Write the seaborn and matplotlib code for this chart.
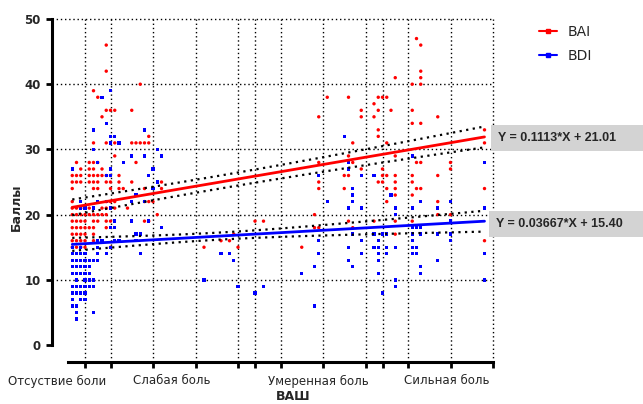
import numpy as np
import pandas as pd
import matplotlib
matplotlib.use("Agg")
import matplotlib.pyplot as plt
import seaborn as sns
from matplotlib.lines import Line2D

# ---- data: score level -> VAS values with that score ----
bai_scores = [47, 46, 42, 41, 40, 39, 38, 37, 36, 35, 34, 33, 32, 31, 29, 28, 27,
              26, 25, 24, 23, 22, 21, 20, 19, 18, 17, 16, 15]
bai_vas = [
    [82], [9, 83], [9, 83], [77, 83], [17, 81, 83], [6], [7, 61, 66, 73, 74, 75], [72],
    [9, 10, 11, 15, 69, 73, 76, 81], [8, 59, 69, 72, 87], [81, 83], [73, 98], [19, 73],
    [6, 9, 11, 15, 16, 17, 18, 19, 67, 75, 98], [11, 66, 77],
    [2, 5, 6, 7, 16, 59, 67, 82, 83, 90], [3, 5, 6, 8, 69, 74, 90],
    [1, 2, 3, 5, 6, 7, 8, 9, 10, 12, 65, 66, 74, 75, 77, 81, 87],
    [1, 2, 3, 5, 6, 7, 9, 10, 12, 15, 22, 59, 73, 74, 77, 81],
    [1, 6, 7, 10, 12, 13, 18, 22, 59, 65, 75, 77, 82, 83, 98], [77, 81],
    [1, 9, 10, 11, 18, 19, 20, 75, 87], [1, 2, 3, 5, 8, 9, 11, 14],
    [1, 2, 3, 4, 5, 6, 7, 8, 9, 21, 58, 87, 90],
    [1, 2, 3, 4, 6, 7, 9, 10, 18, 19, 44, 46, 66, 72, 77, 81],
    [1, 2, 3, 4, 5, 6, 9, 58, 59, 67], [1, 2, 3, 4, 6, 39, 77],
    [1, 2, 3, 4, 6, 36, 38, 98], [1, 2, 3, 4, 10, 32, 40, 55],
]

bdi_scores = [39, 38, 34, 33, 32, 31, 30, 29, 28, 27, 26, 25, 24, 23, 22, 21, 20, 19,
              18, 17, 16, 15, 14, 13, 12, 11, 10, 9, 8, 7, 6, 5, 4]
bdi_vas = [
    [10], [8], [9], [6, 18], [10, 11, 65], [10, 12], [6, 21], [15, 18, 22, 81],
    [7, 13, 66, 98], [1, 10, 20, 66], [9, 10, 19, 59, 69, 72], [21], [20, 67],
    [16, 67, 76], [3, 7, 9, 15, 18, 61, 67, 83, 90], [3, 4, 6, 10, 66, 69, 77, 81, 87, 98],
    [77], [11, 15, 19, 90], [10, 11, 22, 81, 82, 83],
    [16, 17, 67, 72, 74, 75, 81, 83, 87, 90], [7, 8, 11, 12, 16, 59, 69, 73, 81, 90],
    [1, 3, 7, 10, 66, 72, 73, 75, 77, 81, 82],
    [1, 2, 3, 4, 7, 9, 17, 36, 38, 59, 69, 73, 75, 81, 82, 98],
    [1, 2, 3, 4, 5, 6, 7, 39, 66, 73, 87], [1, 2, 3, 4, 5, 58, 67, 83],
    [1, 2, 3, 4, 5, 55, 73, 83], [2, 4, 5, 6, 32, 77, 98], [1, 2, 3, 4, 5, 6, 40, 46, 77],
    [1, 2, 3, 4, 44, 74], [1, 3, 4], [1, 2, 58], [2, 6], [2],
]

# fitted lines as printed on the chart (slope, intercept)
bai_fit = (0.1113, 21.01)
bdi_fit = (0.03667, 15.40)
# half-width of the 95% band read at the two ends of each line
bai_band_ends = (1.2, 1.6)
bdi_band_ends = (1.0, 1.6)

category_labels = ["Отсуствие боли", "Слабая боль", "Умеренная боль", "Сильная боль"]
category_pos = [-2.5, 24.5, 59, 89]
tick_pos = [4, 10, 20, 30, 40, 44, 50, 60, 70, 74, 80, 90, 100]
grid_y = [10, 20, 30, 40, 50]


def to_frame(scores, vas, name):
    rows = [(x, s) for s, xs in zip(scores, vas) for x in xs]
    df = pd.DataFrame(rows, columns=["vas", "score"])
    df["scale"] = name
    return df


data = pd.concat([to_frame(bai_scores, bai_vas, "BAI"),
                  to_frame(bdi_scores, bdi_vas, "BDI")], ignore_index=True)

sns.set_style("white")
plt.rcParams['font.family'] = ['DejaVu Sans']

fig = plt.figure(figsize=(6.43, 4.04), dpi=100)
ax = fig.add_axes([51.85 / 643, 42 / 404, 441.15 / 643, 343 / 404])
ax.set_xlim(-3.8, 100)
ax.set_ylim(-2.6, 50)

# dotted grid
for x in tick_pos:
    ax.axvline(x, color="black", ls=(0, (1, 2)), lw=1, zorder=0, clip_on=False)
for y in grid_y:
    ax.axhline(y, color="black", ls=(0, (1, 2)), lw=1, zorder=0, clip_on=False)

palette = {"BAI": "#ff0000", "BDI": "#0000ff"}
sns.scatterplot(data=data, x="vas", y="score", hue="scale", style="scale",
                markers={"BAI": "o", "BDI": "s"}, palette=palette, s=6,
                linewidth=0, legend=False, ax=ax, zorder=2)

# regression lines + confidence band (hyperbolic, centred on mean VAS)
for name, (b, a), (h1, h2) in [("BAI", bai_fit, bai_band_ends),
                               ("BDI", bdi_fit, bdi_band_ends)]:
    d = data[data["scale"] == name]
    x0, x1 = d["vas"].min(), d["vas"].max()
    m = d["vas"].mean()
    B = (h2 ** 2 - h1 ** 2) / ((x1 - m) ** 2 - (x0 - m) ** 2)
    A = h1 ** 2 - B * (x0 - m) ** 2
    xs = np.linspace(x0, x1, 100)
    yhat = a + b * xs
    half = np.sqrt(A + B * (xs - m) ** 2)
    sns.lineplot(x=xs, y=yhat, color=palette[name], lw=2, ax=ax, zorder=4)
    ax.plot(xs, yhat + half, color="black", ls=(0, (1, 2)), lw=1.6, zorder=3)
    ax.plot(xs, yhat - half, color="black", ls=(0, (1, 2)), lw=1.6, zorder=3)

# axes styling (Prism-like)
for side in ["top", "right"]:
    ax.spines[side].set_visible(False)
ax.spines["left"].set_bounds(0, 50)
ax.spines["bottom"].set_bounds(0, 100)
ax.spines["left"].set_linewidth(2.2)
ax.spines["bottom"].set_linewidth(2.2)
ax.spines["left"].set_color("black")
ax.spines["bottom"].set_color("black")

ax.set_yticks([0, 10, 20, 30, 40, 50])
ax.set_yticklabels([0, 10, 20, 30, 40, 50], fontweight="bold", fontsize=8.5)
ax.set_xticks(tick_pos)
ax.set_xticklabels([])
ax.set_xticks(category_pos, labels=category_labels, minor=True)
ax.tick_params(axis="both", which="major", direction="out", length=4.5, width=2,
               color="black", left=True, bottom=True)
ax.tick_params(axis="x", which="minor", length=0, pad=9, labelsize=8.5)

ax.set_ylabel("Баллы", fontweight="bold", fontsize=9)
ax.yaxis.set_label_coords(-0.065, 0.45)
ax.set_xlabel("ВАШ", fontweight="bold", fontsize=9)
ax.xaxis.set_label_coords(0.547, -0.083)

# equations
eq_style = dict(fontsize=9, fontweight="bold", family=["Liberation Sans", "DejaVu Sans"],
                va="center", ha="left", clip_on=False,
                bbox=dict(boxstyle="square,pad=0.55", fc="#d3d3d3", ec="none"))
ax.text(101.2, 31.75, "Y = 0.1113*X + 21.01      ", **eq_style)
ax.text(100.7, 18.55, "Y = 0.03667*X + 15.40    ", **eq_style)

handles = [Line2D([0], [0], color=palette[k], lw=1.5, marker="s", markersize=2.5)
           for k in ["BAI", "BDI"]]
fig.legend(handles, ["BAI", "BDI"], loc="upper left", bbox_to_anchor=(526 / 643, 1 - 12 / 404),
           frameon=False, fontsize=10, handlelength=1.3, labelspacing=0.75)

fig.savefig("out.png", dpi=100)
